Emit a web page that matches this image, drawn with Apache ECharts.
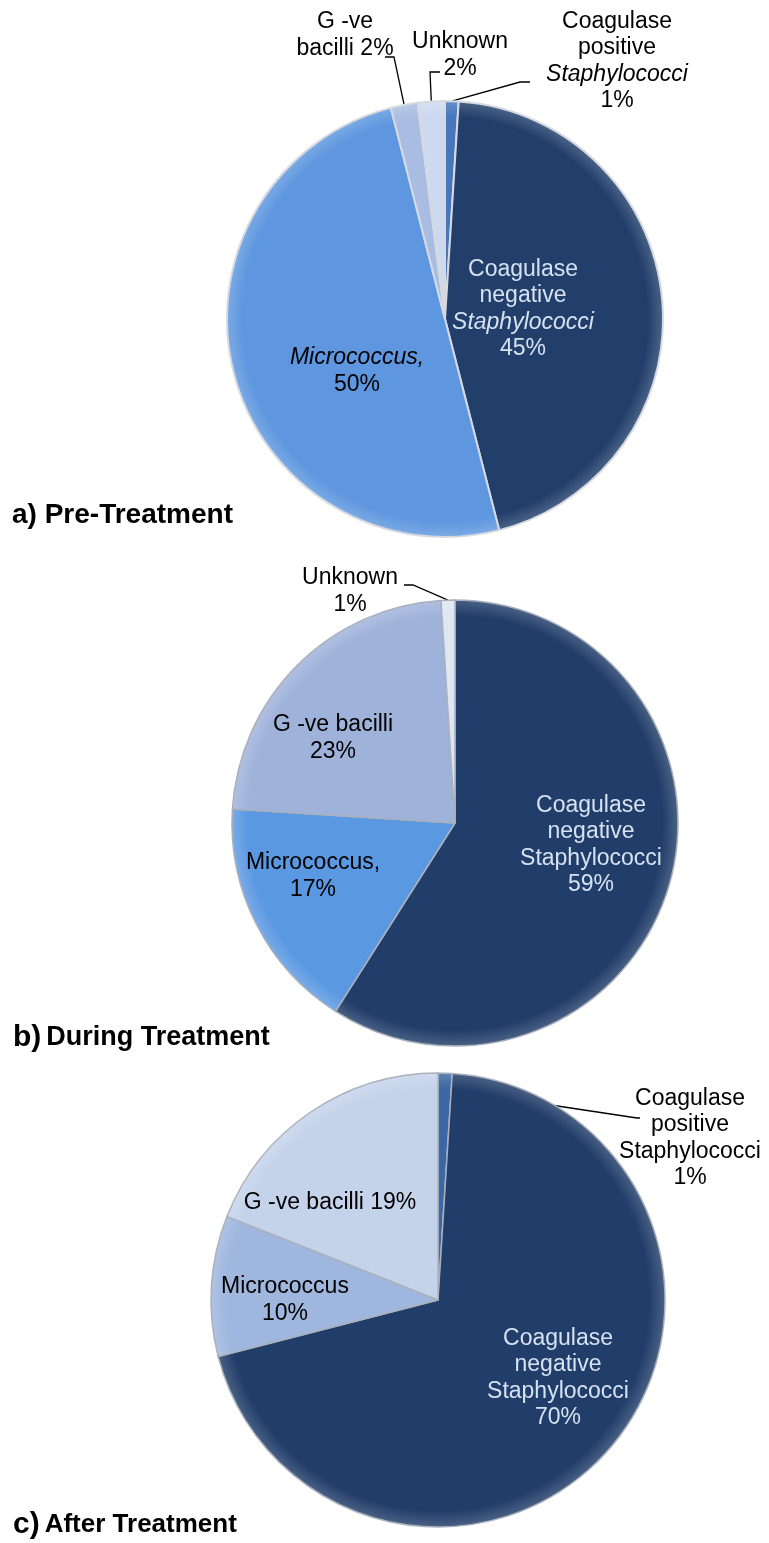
<!DOCTYPE html>
<html>
<head>
<meta charset="utf-8">
<script src="https://cdn.jsdelivr.net/npm/echarts@6/dist/echarts.min.js"></script>
<style>
html, body { margin: 0; padding: 0; background: #ffffff; }
#chart { width: 769px; height: 1543px; }
</style>
</head>
<body>
<div id="chart"></div>
<script>
// a) Pre-Treatment
var names_a  = ['Coagulase\npositive\nStaphylococci', 'Coagulase\nnegative\nStaphylococci', 'Micrococcus,', 'G -ve\nbacilli', 'Unknown'];
var sep_a    = ['\n', '\n', '\n', ' ', '\n'];
var values_a = [1, 45, 50, 2, 2];

// b) During Treatment
var names_b  = ['Coagulase\nnegative\nStaphylococci', 'Micrococcus,', 'G -ve bacilli', 'Unknown'];
var sep_b    = ['\n', '\n', '\n', '\n'];
var values_b = [59, 17, 23, 1];

// c) After Treatment
var names_c  = ['Coagulase\npositive\nStaphylococci', 'Coagulase\nnegative\nStaphylococci', 'Micrococcus', 'G -ve bacilli'];
var sep_c    = ['\n', '\n', '\n', ' '];
var values_c = [1, 70, 10, 19];

var FONT = '"Liberation Sans", Arial, Helvetica, sans-serif';

/* per chart look: colours, label colours, which labels sit outside,
   label anchor offsets from pie centre [dx, dy, elbowX, elbowY, endX, endY] */
var pies = [
    {
        names: names_a, sep: sep_a, values: values_a, italic: true,
        center: [445, 319], radius: 218, border: '#d6dae0', borderWidth: 2, inset: 0,
        colors: ['#4677bd', '#223f6b', '#5e97df', '#a9bde2', '#cdd9ef'],
        textColors: ['#000', '#d6e1f1', '#000', '#000', '#000'],
        outside: [true, false, false, true, true],
        place: [
            [172, -258, 75, -237, 85, -237],
            [78, -10],
            [-88, 52],
            [-100, -284, -51, -262, -60, -262],
            [15, -264, -15, -247, -5, -247]
        ]
    },
    {
        names: names_b, sep: sep_b, values: values_b, italic: false,
        center: [455, 823], radius: 223, border: '#aab1bc', borderWidth: 1.5, inset: 0,
        colors: ['#213d69', '#5b98e2', '#9fb2da', '#dfe6f3'],
        textColors: ['#d6e1f1', '#000', '#000', '#000'],
        outside: [false, false, false, true],
        place: [
            [136, 22],
            [-142, 53],
            [-122, -85],
            [-105, -232, -42, -238, -51, -238]
        ]
    },
    {
        names: names_c, sep: sep_c, values: values_c, italic: false,
        center: [438, 1300], radius: 227, border: '#aab1bc', borderWidth: 1.5, inset: 0.07,
        colors: ['#3b67a5', '#213d69', '#9fb6de', '#c4d2ea'],
        textColors: ['#000', '#d6e1f1', '#000', '#000'],
        outside: [true, false, false, false],
        place: [
            [252, -162, 199, -182, 202, -182],
            [120, 78],
            [-153, 0],
            [-108, -97]
        ]
    }
];

function lighten(hex, k)
{
    var n = parseInt(hex.slice(1), 16);
    var r = (n >> 16) & 255, g = (n >> 8) & 255, b = n & 255;
    r = Math.round(r + (255 - r) * k);
    g = Math.round(g + (255 - g) * k);
    b = Math.round(b + (255 - b) * k);
    return 'rgb(' + r + ',' + g + ',' + b + ')';
}

function make_series(p)
{
    var data = [];
    for (var i = 0; i < p.values.length; i++) {
        var c = p.colors[i];
        var item = {
            value: p.values[i],
            name: p.names[i],
            itemStyle: {
                color: {
                    type: 'radial', x: p.center[0], y: p.center[1], r: p.radius, global: true,
                    colorStops: [
                        { offset: 0, color: c },
                        { offset: 0.93, color: c },
                        { offset: 1, color: lighten(c, 0.18) }
                    ]
                }
            },
            label: { color: p.textColors[i] }
        };
        if (p.outside[i]) {
            item.label.position = 'outside';
            item.labelLine = { show: true };
        }
        data.push(item);
    }
    return {
        type: 'pie',
        center: p.center,
        radius: p.radius,
        startAngle: 90,
        clockwise: true,
        avoidLabelOverlap: false,
        silent: true,
        itemStyle: { borderColor: p.border, borderWidth: p.borderWidth },
        label: {
            show: true,
            position: 'inside',
            fontFamily: FONT,
            fontSize: 23,
            lineHeight: 26.5,
            align: 'center',
            formatter: function (prm) {
                var txt = prm.name + p.sep[prm.dataIndex] + prm.value + '%';
                if (p.italic) {
                    txt = txt.replace('Staphylococci', '{i|Staphylococci}')
                             .replace('Micrococcus,', '{i|Micrococcus,}');
                }
                return txt;
            },
            rich: { i: { fontStyle: 'italic', fontFamily: FONT, fontSize: 23, lineHeight: 26.5 } }
        },
        labelLine: { show: false, lineStyle: { color: '#000', width: 1.3 } },
        labelLayout: function (prm) {
            var o = p.place[prm.dataIndex];
            var cx = p.center[0], cy = p.center[1];
            var res = { x: cx + o[0], y: cy + o[1], align: 'center', verticalAlign: 'middle' };
            if (o.length > 2 && prm.labelLinePoints) {
                var s = prm.labelLinePoints[0];
                var start = [s[0] + (cx - s[0]) * p.inset, s[1] + (cy - s[1]) * p.inset];
                res.labelLinePoints = [start, [cx + o[2], cy + o[3]], [cx + o[4], cy + o[5]]];
            }
            return res;
        },
        data: data
    };
}

var chart = document.getElementById('chart');
var myChart = echarts.init(chart);

var titleStyle = {
    fontFamily: FONT, fontWeight: 'bold', color: '#000',
    rich: {
        big: { fontFamily: FONT, fontWeight: 'bold', fontSize: 30, color: '#000' },
        t:   { fontFamily: FONT, fontWeight: 'bold', fontSize: 26, color: '#000' },
        tb:  { fontFamily: FONT, fontWeight: 'bold', fontSize: 27, color: '#000' },
        ta:  { fontFamily: FONT, fontWeight: 'bold', fontSize: 28, color: '#000' }
    }
};

var option = {
    backgroundColor: '#ffffff',
    animation: false,
    title: [
        { text: '{ta|a) Pre-Treatment}', left: 12, top: 501, padding: 0, textStyle: titleStyle },
        { text: '{big|b)} {tb|During Treatment}', left: 13, top: 1023, padding: 0, textStyle: titleStyle },
        { text: '{big|c)} {t|After Treatment}', left: 13, top: 1510, padding: 0, textStyle: titleStyle }
    ],
    series: pies.map(make_series)
};

myChart.setOption(option);
</script>
</body>
</html>
